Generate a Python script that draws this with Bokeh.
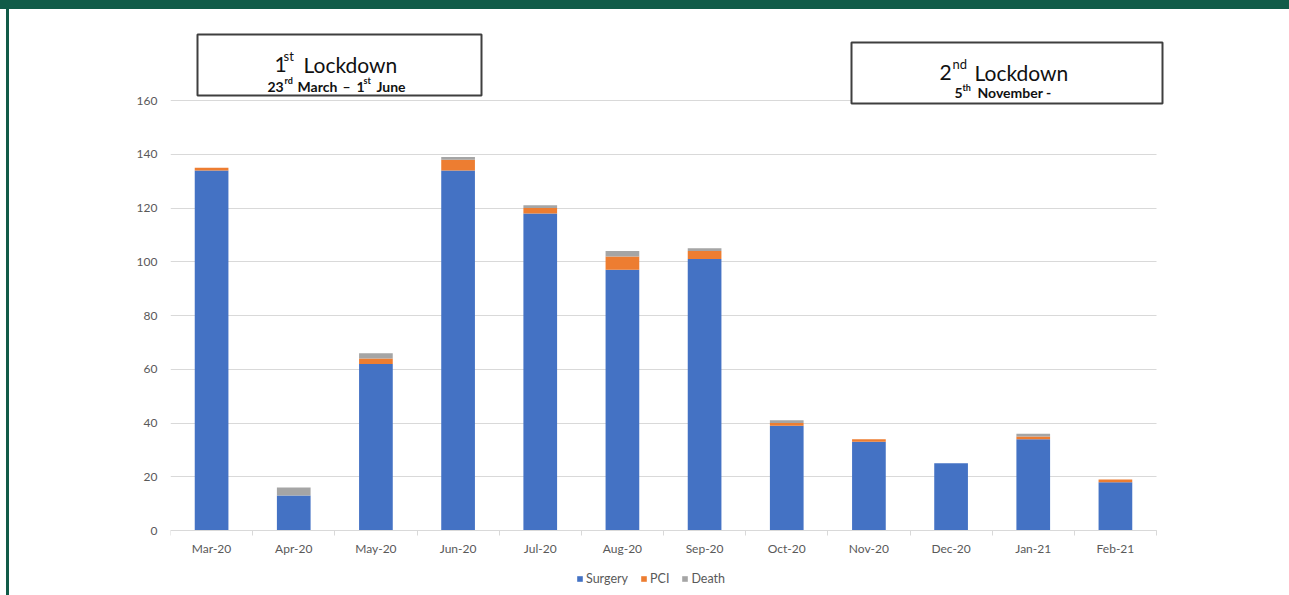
from bokeh.plotting import figure
from bokeh.models import (ColumnDataSource, Range1d, FixedTicker, Legend, LegendItem,
                          BoxAnnotation, Label)
from bokeh.embed import file_html
from bokeh.resources import INLINE

# ---- data ----
months = ["Mar-20", "Apr-20", "May-20", "Jun-20", "Jul-20", "Aug-20",
          "Sep-20", "Oct-20", "Nov-20", "Dec-20", "Jan-21", "Feb-21"]
surgery = [134, 13, 62, 134, 118, 97, 101, 39, 33, 25, 34, 18]
pci = [1, 0, 2, 4, 2, 5, 3, 1, 1, 0, 1, 1]
death = [0, 3, 2, 1, 1, 2, 1, 1, 0, 0, 1, 0]
series = ["Surgery", "PCI", "Death"]
colors = ["#4472C4", "#ED7D31", "#A5A5A5"]
y_ticks = [0, 20, 40, 60, 80, 100, 120, 140, 160]

FONT = "Lato"
W, H = 1289, 595
UNIT = 986 / 12.0          # px per category
F_LEFT = 170
F_RIGHT = 1166             # frame extended a little so the 2nd box fits
F_WIDTH = F_RIGHT - F_LEFT
F_TOP = 20
F_HEIGHT = H - F_TOP       # frame reaches the bottom; legend sits inside it
ZERO_PX = 530              # pixel row of value 0
PX_PER_UNIT = 430 / 160.0  # 0 at y=530, 160 at y=100

n = len(months)
x_idx = list(range(n))
source = ColumnDataSource(dict(x=x_idx, Surgery=surgery, PCI=pci, Death=death))


def xd(px):
    return (px - F_LEFT) / UNIT - 0.5


def yd(py):
    return (ZERO_PX - py) / PX_PER_UNIT


p = figure(frame_width=F_WIDTH, frame_height=F_HEIGHT,
           min_border_left=F_LEFT, min_border_right=W - F_RIGHT,
           min_border_top=F_TOP, min_border_bottom=0,
           x_range=Range1d(-0.5, xd(F_RIGHT)), y_range=Range1d(yd(H), yd(F_TOP)),
           output_backend="svg", toolbar_location=None,
           background_fill_color="white", border_fill_color="white")
p.outline_line_color = None
p.border_fill_alpha = 0
GREEN = "#115B48"
p.styles = {
    "background": ("linear-gradient(%s,%s) 0 0 / 100%% 9px no-repeat, "
                   "linear-gradient(%s,%s) 6px 0 / 3px 100%% no-repeat, #ffffff")
                  % (GREEN, GREEN, GREEN, GREEN)
}

renderers = p.vbar_stack(series, x="x", width=0.41, color=colors, line_color=None,
                         source=source)

# axes
p.xaxis.axis_label = None
p.yaxis.axis_label = None
p.xaxis.fixed_location = 0
p.xaxis.ticker = FixedTicker(ticks=x_idx, minor_ticks=[i - 0.5 for i in range(n + 1)])
p.xaxis.bounds = (-0.5, n - 0.5)
p.xaxis.major_label_overrides = {i: m for i, m in enumerate(months)}
p.xaxis.axis_line_color = "#D9D9D9"
p.xaxis.major_tick_line_color = None
p.xaxis.major_tick_out = 0
p.xaxis.major_tick_in = 0
p.xaxis.minor_tick_line_color = "#D9D9D9"
p.xaxis.minor_tick_out = 5
p.xaxis.minor_tick_in = 0
p.xaxis.major_label_standoff = 5
p.xaxis.axis_label_standoff = 0
p.yaxis.ticker = FixedTicker(ticks=y_ticks)
p.yaxis.bounds = (0, 160)
p.yaxis.axis_line_color = None
p.yaxis.major_tick_line_color = None
p.yaxis.major_tick_out = 0
p.yaxis.major_tick_in = 0
p.yaxis.minor_tick_line_color = None
p.yaxis.major_label_standoff = 13
for ax in (p.xaxis, p.yaxis):
    ax.major_label_text_font = FONT
    ax.major_label_text_font_size = "12px"
    ax.major_label_text_color = "#595959"

p.xgrid.grid_line_color = None
p.ygrid.grid_line_color = "#D9D9D9"
p.ygrid.grid_line_width = 1
try:
    p.ygrid.cross_bounds = (-0.5, n - 0.5)
except Exception:
    pass

# legend inside the (extended) frame, near the bottom
legend = Legend(items=[LegendItem(label=s, renderers=[r]) for s, r in zip(series, renderers)],
                orientation="horizontal", location=(406, 9),
                glyph_width=7, glyph_height=7, label_height=12, label_width=10,
                label_standoff=3, spacing=12,
                label_text_font=FONT, label_text_font_size="12.5px",
                label_text_color="#595959", border_line_color=None,
                background_fill_alpha=0, padding=2, margin=0)
p.add_layout(legend, "center")

# annotation boxes
for (l, r, t, b) in [(197, 481, 34, 95), (851, 1162, 42, 103)]:
    p.add_layout(BoxAnnotation(left=xd(l), right=xd(r), top=yd(t), bottom=yd(b),
                               fill_color="white", fill_alpha=1,
                               line_color="#3F3F3F", line_alpha=1, line_width=2,
                               level="overlay"))

pieces = [
    # (text, left px, baseline px, size, style)
    ("1", 274, 64, "21px", "normal"), ("st", 283, 55, "13px", "normal"),
    ("Lockdown", 303, 64, "21px", "normal"),
    ("23", 267, 86, "14px", "bold"), ("rd", 284, 80, "9px", "bold"),
    ("March", 297, 86, "14px", "bold"), ("\u2013", 342, 86, "14px", "bold"),
    ("1", 356, 86, "14px", "bold"), ("st", 363, 80, "9px", "bold"),
    ("June", 376, 86, "14px", "bold"),
    ("2", 939, 72, "21px", "normal"), ("nd", 952, 63, "13px", "normal"),
    ("Lockdown", 974, 72, "21px", "normal"),
    ("5", 954, 92, "14px", "bold"), ("th", 962, 87, "9px", "bold"),
    ("November -", 977, 92, "14px", "bold"),
]
for txt, lx, by, fs, st in pieces:
    p.add_layout(Label(x=xd(lx), y=yd(by), text=txt, text_font=FONT, text_font_size=fs,
                       text_font_style=st, text_color="#111111", text_align="left",
                       text_baseline="alphabetic", level="overlay"))

open("out.html", "w").write(file_html(p, INLINE))
